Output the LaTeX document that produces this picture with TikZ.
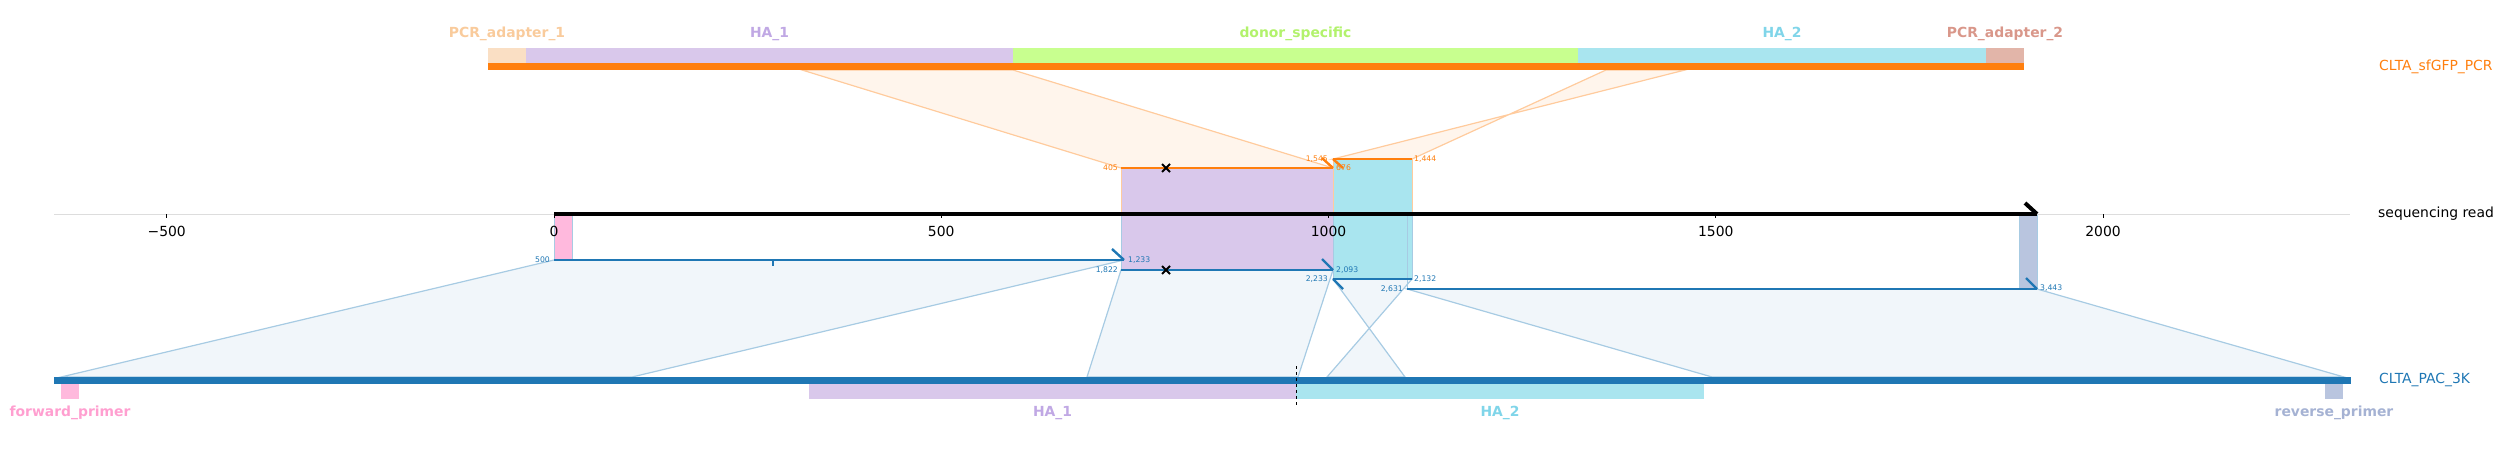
\documentclass[tikz,border=0pt]{standalone}
\usepackage{fontspec}
\setmainfont{DejaVu Sans}
\definecolor{pcrorange}{HTML}{FF7F0E}
\definecolor{pacblue}{HTML}{1F77B4}
\definecolor{adaponefill}{HTML}{FADFC4}
\definecolor{adaponetext}{HTML}{F9CB9C}
\definecolor{haonefill}{HTML}{D9C8EB}
\definecolor{haonetext}{HTML}{C0A8E4}
\definecolor{donorfill}{HTML}{C8FF8F}
\definecolor{donortext}{HTML}{B2F26C}
\definecolor{hatwofill}{HTML}{A9E5EF}
\definecolor{hatwotext}{HTML}{80D5E9}
\definecolor{adaptwofill}{HTML}{E2B5A9}
\definecolor{adaptwotext}{HTML}{D9978A}
\definecolor{fwdfill}{HTML}{FFB9DD}
\definecolor{fwdtext}{HTML}{FF9FD0}
\definecolor{revfill}{HTML}{B9C5DF}
\definecolor{revtext}{HTML}{A5B2D3}
\definecolor{bandorange}{HTML}{FFF5EC}
\definecolor{edgeorange}{HTML}{FFCB9D}
\definecolor{bandblue}{HTML}{F1F6FA}
\definecolor{edgeblue}{HTML}{A7CBE3}
\definecolor{axisgray}{HTML}{DDDDDD}
\newcommand{\featfont}{\fontsize{13.9}{16}\selectfont\bfseries}
\newcommand{\trackfont}{\fontsize{13.9}{16}\selectfont}
\newcommand{\posfont}{\fontsize{7.7}{9}\selectfont}

\begin{document}
\begin{tikzpicture}[x=1pt,y=-1pt,
    featlabel/.style={font=\featfont, inner sep=0pt},
    tracklabel/.style={font=\trackfont, inner sep=0pt, anchor=west},
    poslabel/.style={font=\posfont, inner sep=0pt},
    orangeband/.style={fill=bandorange, draw=edgeorange, line width=1.2pt},
    blueband/.style={fill=bandblue, draw=edgeblue, line width=1.2pt},
    hitline/.style={line width=2pt},
    barb/.style={line width=2.4pt}]
  \useasboundingbox (0,0) rectangle (2504,448);

  % ends of the hits, on the read
  \coordinate (o405) at (1121,168);
  \coordinate (o676) at (1333,168);
  \coordinate (o1545) at (1333,159);
  \coordinate (o1444) at (1412,159);
  \coordinate (b500) at (554,260);
  \coordinate (b1233) at (1124,260);
  \coordinate (b1822) at (1121,270);
  \coordinate (b2093) at (1333,270);
  \coordinate (b2233) at (1333,279);
  \coordinate (b2132) at (1412,279);
  \coordinate (b2631) at (1407,289);
  \coordinate (b3443) at (2037,289);
  % the same ends, on the two references
  \coordinate (p405) at (802,70);
  \coordinate (p676) at (1013,70);
  \coordinate (p1545) at (1685,70);
  \coordinate (p1444) at (1606,70);
  \coordinate (q500) at (61,377);
  \coordinate (q1233) at (632,377);
  \coordinate (q1822) at (1087,377);
  \coordinate (q2093) at (1298,377);
  \coordinate (q2233) at (1405,377);
  \coordinate (q2132) at (1327,377);
  \coordinate (q2631) at (1712,377);
  \coordinate (q3443) at (2344,377);

  % bands
  \filldraw[orangeband] (p405) -- (p676) -- (o676) -- (o405) -- cycle;
  \filldraw[orangeband] (p1545) -- (p1444) -- (o1444) -- (o1545) -- cycle;
  \filldraw[blueband] (b500) -- (b1233) -- (q1233) -- (q500) -- cycle;
  \filldraw[blueband] (b1822) -- (b2093) -- (q2093) -- (q1822) -- cycle;
  \filldraw[blueband] (b2233) -- (b2132) -- (q2132) -- (q2233) -- cycle;
  \filldraw[blueband] (b2631) -- (b3443) -- (q3443) -- (q2631) -- cycle;

  % top reference
  \foreach \a/\b/\fc/\tc/\nm/\lab in {488/526/adaponefill/adaponetext/adA/PCR\_adapter\_1,
      526/1013/haonefill/haonetext/haA/HA\_1,
      1013/1578/donorfill/donortext/dnr/donor\_specific,
      1578/1986/hatwofill/hatwotext/haB/HA\_2,
      1986/2024/adaptwofill/adaptwotext/adB/PCR\_adapter\_2} {
    \fill[\fc] (\a,48) rectangle (\b,63);
    \node[featlabel, text=\tc] (top-\nm) at ({(\a+\b)/2},34) {\lab};
  }
  \draw[pcrorange, line width=7pt] (488,66.5) -- (2024,66.5);
  \node[tracklabel, text=pcrorange] (pcr) at (2379,67) {CLTA\_sfGFP\_PCR};

  % bottom reference
  \foreach \a/\b/\fc/\tc/\nm/\lab in {61/79/fwdfill/fwdtext/fwd/forward\_primer,
      809/1296/haonefill/haonetext/haA/HA\_1,
      1296/1704/hatwofill/hatwotext/haB/HA\_2,
      2325/2343/revfill/revtext/rev/reverse\_primer} {
    \fill[\fc] (\a,384) rectangle (\b,399);
    \node[featlabel, text=\tc] (bot-\nm) at ({(\a+\b)/2},413) {\lab};
  }
  \draw[pacblue, line width=7pt] (54,380.5) -- (2351,380.5);
  \draw[black, dashed, line width=1pt] (1296,366) -- (1296,405);
  \node[tracklabel, text=pacblue] (pac) at (2379,380) {CLTA\_PAC\_3K};

  % features carried onto the read
  \filldraw[fill=haonefill, draw=edgeorange, line width=1pt] (1121,168) rectangle (1333,214);
  \filldraw[fill=haonefill, draw=edgeblue, line width=1pt] (1121,214) rectangle (1333,270);
  \filldraw[fill=hatwofill, draw=edgeorange, line width=1pt] (1333,159) rectangle (1412,214);
  \filldraw[fill=hatwofill, draw=edgeblue, line width=1pt] (1333,214) rectangle (1412,279);
  \draw[edgeblue, line width=1pt] (1407,214) -- (1407,289);
  \filldraw[fill=fwdfill, draw=edgeblue, line width=1pt] (554,214) rectangle (572,260);
  \filldraw[fill=revfill, draw=edgeblue, line width=1pt] (2019,214) rectangle (2037,288);

  % axis
  \draw[axisgray, line width=1pt] (54,214) -- (2350,214);
  \foreach \t/\lab in {-500/{−500},0/0,500/500,1000/1000,1500/1500,2000/2000} {
    \pgfmathsetmacro{\xt}{554+\t*0.7745}
    \draw[line width=0.8pt] (\xt,214) -- (\xt,218);
    \node[font=\trackfont, inner sep=0pt] (tick\t) at (\xt,231) {\lab};
  }
  \draw[line width=4pt] (554,214) -- (2037,214);
  \draw[line width=4pt] (2025,203) -- (2037,214);
  \node[tracklabel] (read) at (2378,214) {sequencing read};

  % hits
  \draw[pcrorange, hitline] (o405) -- (o676);
  \draw[pcrorange, barb] (1322,158) -- (o676);
  \draw[pcrorange, hitline] (o1545) -- (o1444);
  \draw[pcrorange, barb] (o1545) -- (1343,168);
  \draw[pacblue, hitline] (b500) -- (b1233);
  \draw[pacblue, barb] (1112,249) -- (b1233);
  \draw[pacblue, line width=2pt] (773,260) -- (773,266);
  \draw[pacblue, hitline] (b1822) -- (b2093);
  \draw[pacblue, barb] (1322,259) -- (b2093);
  \draw[pacblue, hitline] (b2233) -- (b2132);
  \draw[pacblue, barb] (b2233) -- (1343,289);
  \draw[pacblue, hitline] (b2631) -- (b3443);
  \draw[pacblue, barb] (2026,278) -- (b3443);

  % crosses
  \foreach \y in {168,270} {
    \draw[line width=2pt] (1162,\y-4) -- (1170,\y+4) (1162,\y+4) -- (1170,\y-4);
  }

  % hit coordinates
  \node[poslabel, text=pcrorange, anchor=east] (l405) at (1118,168) {405};
  \node[poslabel, text=pcrorange, anchor=west] (l676) at (1336,168) {676};
  \node[poslabel, text=pcrorange, anchor=east] (l1545) at (1328,159) {1,545};
  \node[poslabel, text=pcrorange, anchor=west] (l1444) at (1414,159) {1,444};
  \node[poslabel, text=pacblue, anchor=east] (l500) at (550,260) {500};
  \node[poslabel, text=pacblue, anchor=west] (l1233) at (1128,260) {1,233};
  \node[poslabel, text=pacblue, anchor=east] (l1822) at (1118,270) {1,822};
  \node[poslabel, text=pacblue, anchor=west] (l2093) at (1336,270) {2,093};
  \node[poslabel, text=pacblue, anchor=east] (l2233) at (1328,279) {2,233};
  \node[poslabel, text=pacblue, anchor=west] (l2132) at (1414,279) {2,132};
  \node[poslabel, text=pacblue, anchor=east] (l2631) at (1403,289) {2,631};
  \node[poslabel, text=pacblue, anchor=west] (l3443) at (2040,288) {3,443};
\end{tikzpicture}
\end{document}
